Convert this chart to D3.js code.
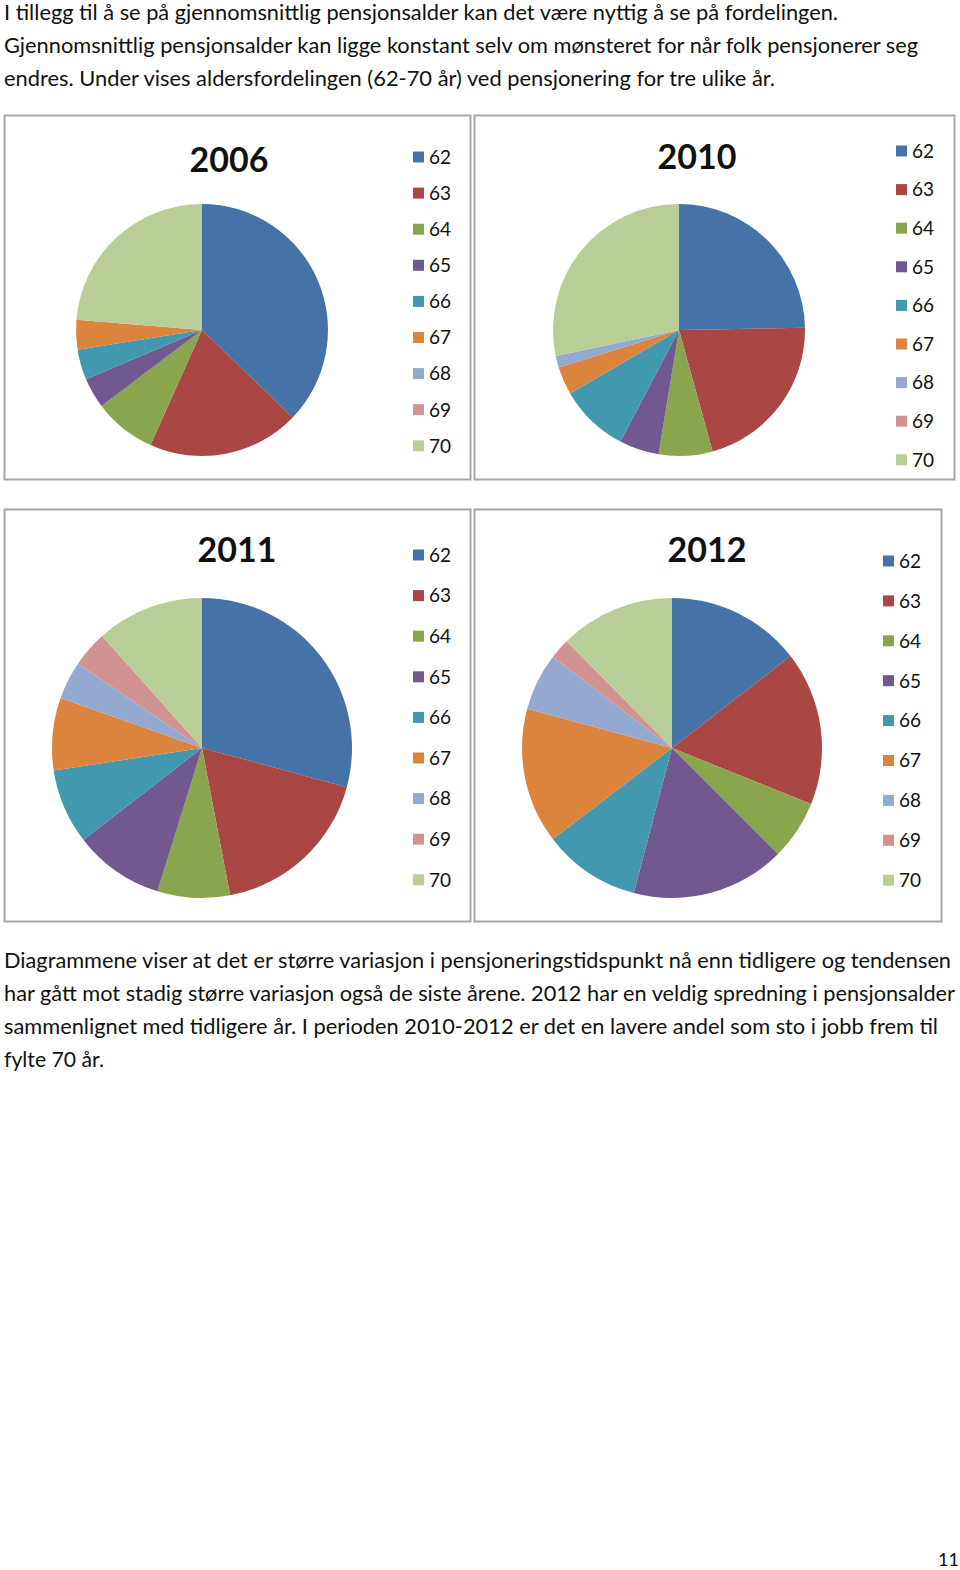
<!DOCTYPE html>
<html>
<head>
<meta charset="utf-8">
<script src="https://cdn.jsdelivr.net/npm/d3@7"></script>
<style>
  body { margin: 0; background: #fff; }
  svg { display: block; }
  text { font-family: Lato, "Open Sans", sans-serif; fill: #111; }
</style>
</head>
<body>
<svg id="page" width="960" height="1570"></svg>
<script>
// age groups (legend) and one share per age for each year, in percent
var ages = ["62", "63", "64", "65", "66", "67", "68", "69", "70"];
var years = ["2006", "2010", "2011", "2012"];
var share2006 = [37.2, 19.5, 8.0, 3.9, 3.9, 3.8, 0, 0, 23.7];
var share2010 = [24.7, 21.0, 6.9, 5.1, 8.9, 3.6, 1.5, 0, 28.3];
var share2011 = [29.2, 17.8, 7.8, 9.7, 8.1, 7.8, 4.1, 3.9, 11.6];
var share2012 = [14.5, 16.6, 6.4, 16.6, 10.5, 14.6, 6.2, 2.2, 12.4];
var colors = ["#4572A7", "#AA4643", "#89A54E", "#71588F", "#4198AF", "#DB843D", "#93A9CF", "#D19392", "#B9CD96"];

var introLines = [
	"I tillegg til å se på gjennomsnittlig pensjonsalder kan det være nyttig å se på fordelingen.",
	"Gjennomsnittlig pensjonsalder kan ligge konstant selv om mønsteret for når folk pensjonerer seg",
	"endres. Under vises aldersfordelingen (62-70 år) ved pensjonering for tre ulike år."
];
var outroLines = [
	"Diagrammene viser at det er større variasjon i pensjoneringstidspunkt nå enn tidligere og tendensen",
	"har gått mot stadig større variasjon også de siste årene. 2012 har en veldig spredning i pensjonsalder",
	"sammenlignet med tidligere år.  I perioden 2010-2012 er det en lavere andel som sto i jobb frem til",
	"fylte 70 år."
];

var svg = d3.select("#page");

// paragraph text, widths taken from the page
function paragraph(lines, y0, widths)
{
	svg.selectAll(null)
	.data(lines)
	.enter().append("text")
	.attr("x", 4)
	.attr("y", function(d, i) { return y0 + i * 33; })
	.attr("font-size", 20.5)
	.attr("textLength", function(d, i) { return widths[i]; })
	.attr("lengthAdjust", "spacingAndGlyphs")
	.text(function(d) { return d; });
}
paragraph(introLines, 20, [834, 914, 771]);
paragraph(outroLines, 968, [947, 951, 934, 100]);

// panel geometry
var panels = [
	{ year: years[0], data: share2006, box: [4, 115, 466, 364], cx: 202, cy: 330, r: 126, tx: 229, ty: 172, lx: 413, ly: 157, step: 36.1 },
	{ year: years[1], data: share2010, box: [474, 115, 480, 364], cx: 679, cy: 330, r: 126, tx: 697, ty: 169, lx: 896, ly: 151, step: 38.6 },
	{ year: years[2], data: share2011, box: [4, 509, 466, 412], cx: 202, cy: 748, r: 150, tx: 237, ty: 562, lx: 413, ly: 555, step: 40.6 },
	{ year: years[3], data: share2012, box: [474, 509, 467, 412], cx: 672, cy: 748, r: 150, tx: 707, ty: 562, lx: 883, ly: 561, step: 39.9 }
];

var pie = d3.pie().sort(null).value(function(d) { return d; });

panels.forEach(function(p)
{
	var g = svg.append("g");

	g.append("rect")
	.attr("x", p.box[0] + 0.5)
	.attr("y", p.box[1] + 0.5)
	.attr("width", p.box[2])
	.attr("height", p.box[3])
	.attr("fill", "#fff")
	.attr("stroke", "#a6a6a6")
	.attr("stroke-width", 2);

	g.append("text")
	.attr("x", p.tx)
	.attr("y", p.ty)
	.attr("text-anchor", "middle")
	.attr("font-size", 34)
	.attr("font-weight", "bold")
	.attr("fill", "#000")
	.text(p.year);

	var arc = d3.arc().innerRadius(0).outerRadius(p.r);

	g.append("g")
	.attr("transform", "translate(" + p.cx + "," + p.cy + ")")
	.selectAll("path")
	.data(pie(p.data))
	.enter().append("path")
	.attr("d", arc)
	.attr("fill", function(d, i) { return colors[i]; });

	var y = d3.scalePoint().domain(ages).range([p.ly, p.ly + p.step * (ages.length - 1)]);

	var item = g.selectAll(".item")
	.data(ages)
	.enter().append("g")
	.attr("class", "item")
	.attr("transform", function(d) { return "translate(" + p.lx + "," + y(d) + ")"; });

	item.append("rect")
	.attr("x", 0)
	.attr("y", -5.5)
	.attr("width", 11)
	.attr("height", 11)
	.attr("fill", function(d, i) { return colors[i]; });

	item.append("text")
	.attr("x", 16)
	.attr("dy", "0.36em")
	.attr("font-size", 19)
	.attr("fill", "#222")
	.text(function(d) { return d; });
});

svg.append("text")
.attr("x", 959)
.attr("y", 1566)
.attr("text-anchor", "end")
.attr("font-family", "Liberation Sans, Arial, sans-serif")
.attr("font-size", 18)
.text("11");
</script>
</body>
</html>
